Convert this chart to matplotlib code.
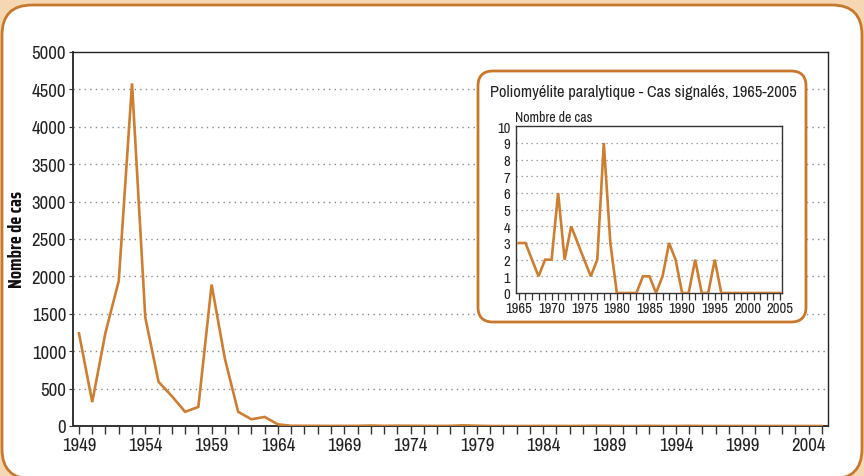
import matplotlib
matplotlib.use("Agg")
import matplotlib.pyplot as plt
from matplotlib.patches import FancyBboxPatch
from matplotlib.transforms import IdentityTransform

plt.rcParams['font.family'] = ['Archivo Narrow', 'DejaVu Sans']

# ---- data ----
years_early = list(range(1949, 1965))
cases_early = [1240, 320, 1250, 1940, 4580, 1450, 590, 400, 190, 255, 1890, 900, 190, 90, 121, 22]
years_recent = list(range(1965, 2006))
cases_recent = [3, 3, 2, 1, 2, 2, 6, 2, 4, 3, 2, 1, 2, 9, 3, 0, 0, 0, 0, 1, 1, 0, 1, 3, 2,
                0, 0, 2, 0, 0, 2, 0, 0, 0, 0, 0, 0, 0, 0, 0, 0]
years_all = years_early + years_recent
cases_all = cases_early + cases_recent

main_xtick_labels = [str(y) for y in range(1949, 2005, 5)]
main_yticks = list(range(0, 5001, 500))
inset_xtick_labels = [str(y) for y in range(1965, 2006, 5)]
inset_yticks = list(range(0, 11))

ylabel_main = "Nombre de cas"
inset_title = "Poliomyélite paralytique - Cas signalés, 1965-2005"
inset_ylabel = "Nombre de cas"

# ---- style ----
W, H = 864, 477
LINE = '#CC7E33'
BORDER = '#C8782C'
PEACH = '#F5D8B3'
SPINE = '#333333'
GRID = '#8a8a8a'
TXT = '#222222'

fig = plt.figure(figsize=(W / 100, H / 100), dpi=100, facecolor=PEACH)

# outer white rounded panel (pixel coordinates)
R0 = 30
panel = FancyBboxPatch((2 + R0, -3 + R0), (862 - 2) - 2 * R0, (471 + 3) - 2 * R0,
                       boxstyle=f"round,pad={R0},rounding_size={R0}",
                       transform=IdentityTransform(), facecolor='white',
                       edgecolor=BORDER, linewidth=2.0, zorder=-5)
fig.patches.append(panel)

# ---- main axes ----
ax = fig.add_axes([73 / W, 1 - 427 / H, (828 - 73) / W, (427 - 53) / H], zorder=0)
ax.set_facecolor('none')
ax.plot(years_all, cases_all, color=LINE, linewidth=1.9, solid_joinstyle='miter', zorder=3)
ax.set_xlim(1948.55, 2005.47)
ax.set_ylim(0, 5000)
ax.set_xticks(years_all)
ax.set_xticklabels([str(y) if str(y) in main_xtick_labels else '' for y in years_all])
ax.set_yticks(main_yticks)
ax.set_yticklabels([str(v) for v in main_yticks])
ax.tick_params(axis='x', direction='out', length=6, width=1.0, color=SPINE,
               labelsize=13.5, labelcolor=TXT, pad=2)
ax.tick_params(axis='y', direction='out', length=3, width=0.8, color=SPINE,
               labelsize=13.5, labelcolor=TXT, pad=2)
for g in main_yticks[1:-1]:
    ax.axhline(g, color=GRID, linestyle=(0, (1, 3)), linewidth=1.0, zorder=1)
for s in ['left', 'bottom']:
    ax.spines[s].set_color(SPINE)
    ax.spines[s].set_linewidth(1.4)
for s in ['top', 'right']:
    ax.spines[s].set_color('#222222')
    ax.spines[s].set_linewidth(1.0)
fig.text(17 / W, 1 - 240 / H, ylabel_main, rotation=90, ha='center', va='center',
         fontsize=13.5, fontweight='bold', color='#111111',
         family=['Saira Condensed', 'DejaVu Sans'])

# ---- inset rounded box ----
bx0, bx1, by0, by1 = 478, 806, 72, 323
r = 15
box = FancyBboxPatch((bx0 + r, (H - by1) + r), (bx1 - bx0) - 2 * r, (by1 - by0) - 2 * r,
                     boxstyle=f"round,pad={r},rounding_size={r}",
                     transform=IdentityTransform(), facecolor='white',
                     edgecolor=BORDER, linewidth=2.0, zorder=1)
fig.patches.append(box)
fig.text(490 / W, 1 - 93 / H, inset_title, ha='left', va='center',
         fontsize=11.8, color=TXT, zorder=3)
fig.text(515 / W, 1 - 118 / H, inset_ylabel, ha='left', va='center',
         fontsize=10, color=TXT, zorder=3)

# ---- inset axes ----
ia = fig.add_axes([515.7 / W, 1 - 294 / H, (782.3 - 515.7) / W, (294 - 127.3) / H], zorder=2)
ia.set_facecolor('white')
ia.plot(years_recent, cases_recent, color=LINE, linewidth=1.9, solid_joinstyle='miter', zorder=3)
ia.set_xlim(1964.5, 2005.35)
ia.set_ylim(0, 10)
ia.set_xticks(years_recent)
ia.set_xticklabels([str(y) if str(y) in inset_xtick_labels else '' for y in years_recent])
ia.set_yticks(inset_yticks)
ia.set_yticklabels([str(v) for v in inset_yticks])
ia.tick_params(axis='x', direction='out', length=5, width=0.9, color=SPINE,
               labelsize=10.5, labelcolor=TXT, pad=1)
ia.tick_params(axis='y', direction='out', length=0, labelsize=10.5,
               labelcolor=TXT, pad=4)
for g in inset_yticks[1:-1]:
    ia.axhline(g, color=GRID, linestyle=(0, (1, 3)), linewidth=0.9, zorder=1)
for s in ia.spines.values():
    s.set_color(SPINE)
    s.set_linewidth(1.0)

fig.savefig('out.png', dpi=100, facecolor=PEACH)
